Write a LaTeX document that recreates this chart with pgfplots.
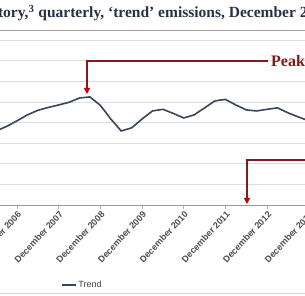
\documentclass[border=0pt]{standalone}
\usepackage{pgfplots}
\pgfplotsset{compat=1.18}
\usepackage{fontspec}
\setmainfont{Liberation Serif}
\newfontfamily\arialf{Liberation Sans}
\usetikzlibrary{arrows.meta}
\definecolor{trendc}{RGB}{55,70,88}
\definecolor{maroon}{RGB}{130,25,30}
\definecolor{titlec}{RGB}{38,50,72}
\definecolor{gridc}{RGB}{222,222,222}
\begin{document}
\begin{tikzpicture}
\useasboundingbox (0,0) rectangle (305pt,296pt);
\clip (0,0) rectangle (305pt,296pt);
\begin{axis}[
  scale only axis,
  width=319.2pt, height=165pt,
  at={(0pt,91pt)}, anchor=south west,
  xmin=-1.632, xmax=29,
  ymin=0, ymax=8,
  axis lines*=left,
  y axis line style={draw=none},
  x axis line style={draw=gray!80, line width=0.8pt},
  ytick={0,1,...,8}, yticklabels={},
  ytick style={draw=none},
  ymajorgrids, grid style={gridc, line width=0.7pt},
  xtick={0,4,...,28},
  xticklabels={December 2006,December 2007,December 2008,December 2009,December 2010,December 2011,December 2012,December 2013},
  xticklabel style={rotate=47, anchor=north east, font=\arialf\bfseries\fontsize{9}{10}\selectfont, text=black!70, inner sep=1pt},
  tick align=outside, major tick length=4pt,
  xtick style={draw=gray!60, line width=0.6pt},
  clip=true,
  legend style={at={(0.19,-0.485)}, anchor=west, draw=none, fill=none, font=\arialf\fontsize{9}{10}\selectfont, text=black!75, inner sep=0pt},
  legend image code/.code={\draw[#1] (0pt,0pt) -- (14pt,0pt);},
]
\addplot[trendc, line width=1.6pt] coordinates {
(-2,3.59) (-1,3.81) (0,4.08) (1,4.37) (2,4.59) (3,4.73) (4,4.85) (5,4.98)
(6,5.19) (7,5.24) (8,4.83) (9,4.17) (10,3.59) (11,3.74) (12,4.17) (13,4.56)
(14,4.64) (15,4.44) (16,4.22) (17,4.37) (18,4.71) (19,5.05) (20,5.12) (21,4.85)
(22,4.61) (23,4.56) (24,4.64) (25,4.71) (26,4.47) (27,4.27) (28,4.08) (29,3.9)
};
\addlegendentry{Trend}
\end{axis}
% title
\node[anchor=base west, inner sep=0pt, text=titlec, font=\bfseries\fontsize{15.5}{16}\selectfont] at (3pt,278pt)
  {\llap{Australia's national invent}ory,\textsuperscript{3} quarterly, `trend' emissions, December 2002 to June 2013};
\draw[gray!75, line width=1.5pt] (0,265.5pt) -- (305pt,265.5pt);
\draw[gray!35, line width=0.8pt] (0,3pt) -- (305pt,3pt);
% peak annotation
\draw[maroon, line width=1.3pt] (268pt,235pt) -- (87pt,235pt) -- (87pt,209pt);
\draw[-{Triangle[length=6pt,width=6pt]}, red!80!black, line width=1.3pt] (87pt,210pt) -- (87pt,202pt);
\node[anchor=west, inner sep=0pt, text=maroon, font=\bfseries\fontsize{16}{17}\selectfont] at (271pt,235pt) {Peak emissions};
% second annotation
\draw[maroon, line width=1.3pt] (310pt,136pt) -- (247pt,136pt) -- (247pt,99pt);
\draw[-{Triangle[length=6pt,width=6pt]}, red!80!black, line width=1.3pt] (247pt,100pt) -- (247pt,92pt);
\end{tikzpicture}
\end{document}
